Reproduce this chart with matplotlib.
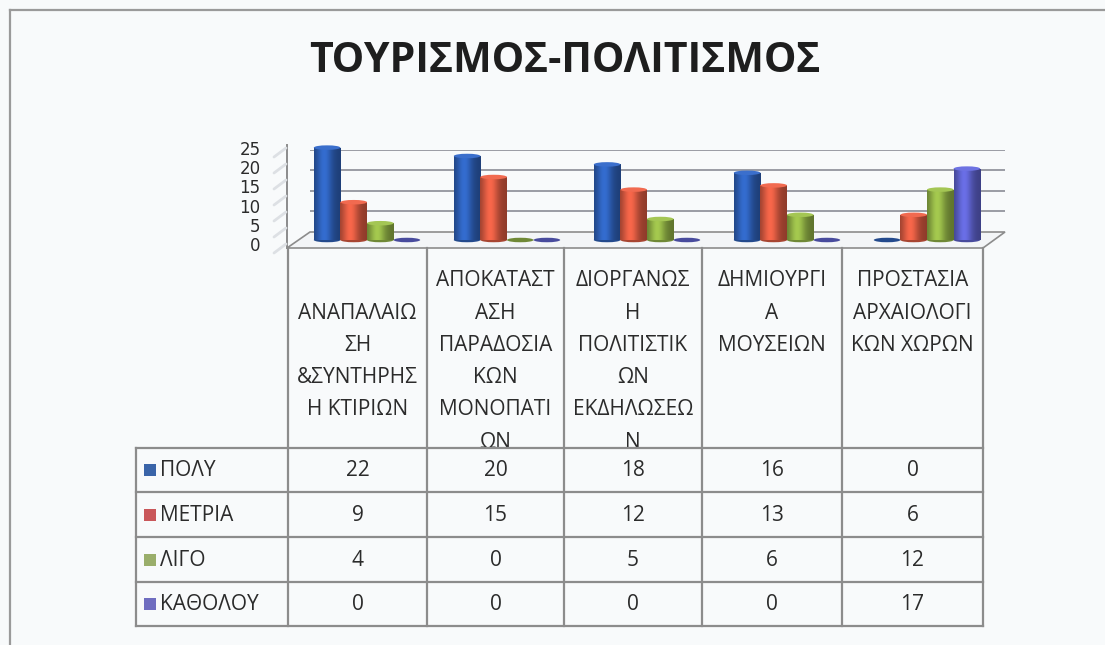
import numpy as np
import matplotlib
matplotlib.use("Agg")
import matplotlib.pyplot as plt
from matplotlib.patches import Polygon, Rectangle, Ellipse

# ---------------- data ----------------
title = "ΤΟΥΡΙΣΜΟΣ-ΠΟΛΙΤΙΣΜΟΣ"
categories = [
    "ΑΝΑΠΑΛΑΙΩ\nΣΗ\n&ΣΥΝΤΗΡΗΣ\nΗ ΚΤΙΡΙΩΝ",
    "ΑΠΟΚΑΤΑΣΤ\nΑΣΗ\nΠΑΡΑΔΟΣΙΑ\nΚΩΝ\nΜΟΝΟΠΑΤΙ\nΩΝ",
    "ΔΙΟΡΓΑΝΩΣ\nΗ\nΠΟΛΙΤΙΣΤΙΚ\nΩΝ\nΕΚΔΗΛΩΣΕΩ\nΝ",
    "ΔΗΜΙΟΥΡΓΙ\nΑ\nΜΟΥΣΕΙΩΝ",
    "ΠΡΟΣΤΑΣΙΑ\nΑΡΧΑΙΟΛΟΓΙ\nΚΩΝ ΧΩΡΩΝ",
]
series_names = ["ΠΟΛΥ", "ΜΕΤΡΙΑ", "ΛΙΓΟ", "ΚΑΘΟΛΟΥ"]
polu = [22, 20, 18, 16, 0]
metria = [9, 15, 12, 13, 6]
ligo = [4, 0, 5, 6, 12]
katholou = [0, 0, 0, 0, 17]
series_values = [polu, metria, ligo, katholou]
y_ticks = [0, 5, 10, 15, 20, 25]

# ---------------- style ----------------
bar_colors = ["#2c5cb0", "#d2573f", "#8cab43", "#5a5ec4"]
key_colors = ["#3a64a8", "#c9575a", "#9aae6b", "#6f6dc0"]
text_color = "#2b2b2b"
line_color = "#8c8c8c"
FONT = ["Open Sans", "DejaVu Sans"]
plt.rcParams["font.family"] = FONT

W, H = 1105, 645
fig = plt.figure(figsize=(W / 100, H / 100), dpi=100)
fig.patch.set_facecolor("#f8fafb")


def pos(x0, y0, x1, y1):
    return [x0 / W, 1 - y1 / H, (x1 - x0) / W, (y1 - y0) / H]


# decoration / layout axes in pixel coordinates
deco = fig.add_axes([0, 0, 1, 1])
deco.set_xlim(0, W)
deco.set_ylim(H, 0)
deco.axis("off")
deco.patch.set_alpha(0)

# outer chart frame
deco.plot([10, 10], [10, H], color="#9a9a9a", lw=1.6)
deco.plot([10, W], [10, 10], color="#9a9a9a", lw=1.6)

# title
deco.text(565, 61, title, ha="center", va="center", fontsize=29.5,
          fontweight="bold", color="#1e1e1e")

# floor of the 3D plot
floor = Polygon([(287, 248), (983, 248), (1005, 232), (310, 232)],
                closed=True, facecolor="#f3f5f7", edgecolor=line_color, lw=1.2)
deco.add_patch(floor)
# left wall edge
deco.plot([287, 287], [145, 248], color=line_color, lw=1.4)
# side wall faint hatch
for k in range(7):
    yy = 246 - k * 16
    deco.plot([274, 286], [yy + 7, yy - 2], color="#dde0e4", lw=2.0,
              solid_capstyle="round")

# ---------------- back wall gridlines ----------------
wall = fig.add_axes(pos(310, 149.6, 1005, 232))
wall.set_xlim(0, 1)
wall.set_ylim(0, 20)
wall.axis("off")
wall.patch.set_alpha(0)
for g in [5, 10, 15, 20]:
    wall.axhline(g, color="#9a9ca4", lw=1.4)

# ---------------- y tick labels ----------------
lab = fig.add_axes(pos(287, 148, 290, 244))
lab.set_ylim(0, 25)
lab.set_xlim(0, 1)
lab.patch.set_alpha(0)
for s in lab.spines.values():
    s.set_visible(False)
lab.set_xticks([])
lab.set_yticks(y_ticks)
lab.set_yticklabels([str(t) for t in y_ticks], fontsize=12,
                    color=text_color, family="DejaVu Sans")
lab.tick_params(axis="y", length=0, pad=19)

# ---------------- bars ----------------
ax = fig.add_axes(pos(297, 135, 997, 240))
ax.patch.set_alpha(0)
ax.axis("off")
n_cat = len(categories)
n_ser = len(series_values)
bw = 0.19
ppu = 105 / 25.0  # pixels per unit on bar axis
cap_h = 4.5 / ppu   # ellipse cap height in data units

t = np.linspace(0, 1, 64)
prof = 0.68 + 0.5 * np.exp(-((t - 0.38) / 0.3) ** 2)

for j, vals in enumerate(series_values):
    base = np.array(matplotlib.colors.to_rgb(bar_colors[j]))
    grad = np.clip(base[None, :] * prof[:, None], 0, 1)[None, :, :]
    xs = np.arange(n_cat) + (j - (n_ser - 1) / 2) * bw
    bars = ax.bar(xs, vals, width=bw, color=bar_colors[j], zorder=3 + j,
                  linewidth=0)
    for x, v, b in zip(xs, vals, bars):
        ax.add_patch(Ellipse((x, 0), bw, cap_h, facecolor=base * 0.8,
                             edgecolor="none", zorder=2 + j, clip_on=False))
        if v > 0:
            im = ax.imshow(grad, extent=[x - bw / 2, x + bw / 2, 0, v],
                           aspect="auto", zorder=3.5 + j,
                           interpolation="bilinear")
            im.set_clip_path(b)
            top = np.clip(base * 1.1 + 0.04, 0, 1)
            ax.add_patch(Ellipse((x, v), bw, cap_h, facecolor=top,
                                 edgecolor="none", zorder=3.8 + j,
                                 clip_on=False))
ax.set_xlim(-0.5, n_cat - 0.5)
ax.set_ylim(0, 25)
ax.set_aspect("auto")

# ---------------- data table ----------------
col_x = [288, 427, 564, 702, 842, 983]
row_y = [448, 492, 537, 582, 626]
tab_left = 136
header_top = 248
lw_t = 1.6
for cx in col_x:
    deco.plot([cx, cx], [header_top, row_y[-1]], color=line_color, lw=lw_t,
              zorder=5)
deco.plot([tab_left, tab_left], [row_y[0], row_y[-1]], color=line_color,
          lw=lw_t, zorder=5)
for ry in row_y:
    deco.plot([tab_left, col_x[-1]], [ry, ry], color=line_color, lw=lw_t,
              zorder=5)

# category headers
fs = 15
line_pitch = 32.2
first_line = [1, 0, 0, 0, 0]
for i, cat in enumerate(categories):
    cx = (col_x[i] + col_x[i + 1]) / 2
    for k, ln in enumerate(cat.split("\n")):
        yy = 281 + (k + first_line[i]) * line_pitch
        deco.text(cx, yy, ln, ha="center", va="center", fontsize=fs,
                  color=text_color, zorder=4)

# rows
for j, name in enumerate(series_names):
    cy = (row_y[j] + row_y[j + 1]) / 2 + 1
    deco.add_patch(Rectangle((144, cy - 7), 12, 12, facecolor=key_colors[j],
                             edgecolor="none", zorder=6))
    deco.text(160, cy, name, ha="left", va="center", fontsize=fs,
              color=text_color, zorder=6)
    for i, v in enumerate(series_values[j]):
        cx = (col_x[i] + col_x[i + 1]) / 2
        deco.text(cx, cy, str(v), ha="center", va="center", fontsize=fs,
                  color=text_color, zorder=6)

fig.savefig("out.png", dpi=100, facecolor=fig.get_facecolor())
